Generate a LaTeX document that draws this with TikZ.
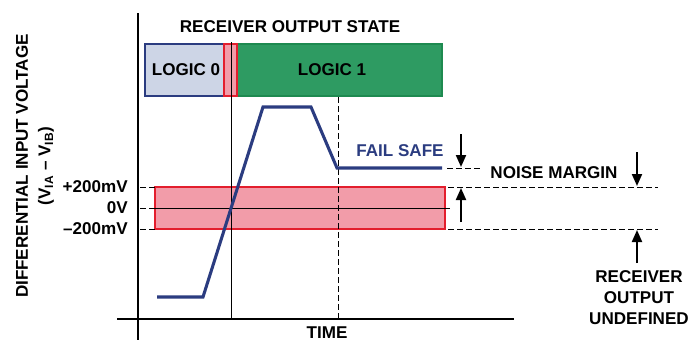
\documentclass[tikz,border=0pt]{standalone}
\usepackage{fontspec}
\setmainfont{Liberation Sans}
\usetikzlibrary{arrows.meta}
\definecolor{wave}{HTML}{2B3C80}
\definecolor{lzero}{HTML}{CDD5E6}
\definecolor{lone}{HTML}{2E9B62}
\definecolor{lonedraw}{HTML}{1E8A50}
\definecolor{band}{HTML}{F29CA9}
\definecolor{bandline}{HTML}{E31E2D}
\tikzset{
  lbl/.style={font=\fontsize{12.8}{15}\selectfont\bfseries, inner sep=0pt},
  tick/.style={lbl, anchor=east},
  thin/.style={line width=0.75pt, black},
  dashln/.style={line width=0.75pt, black, dash pattern=on 4.5pt off 2.25pt},
  axis/.style={line width=1.6pt, black},
  marker/.style={line width=1.5pt, -{Triangle[length=9pt,width=7.5pt]}},
  statebox/.style={inner sep=0pt, line width=1.2pt}
}
\begin{document}
\begin{tikzpicture}[x=0.75pt,y=-0.75pt]
\useasboundingbox (0,0) rectangle (690,343);
% pink undefined band
\node[statebox, draw=bandline, fill=band, minimum width=217.5pt, minimum height=31.5pt] (band) at (300,208) {};
% state boxes
\node[statebox, draw=wave, fill=lzero, minimum width=59.25pt, minimum height=39pt] (l0) at (184.5,70) {};
\node[lbl] (l0t) at (186,70) {LOGIC 0};
\node[statebox, draw=lonedraw, fill=lone, minimum width=153.75pt, minimum height=39pt] (l1) at (339.5,70) {};
\node[lbl] (l1t) at (332,70) {LOGIC 1};
\node[statebox, draw=bandline, fill=band, minimum width=9.75pt, minimum height=39pt] (lx) at (230.5,70) {};
\node[lbl] (title) at (290,27) {RECEIVER OUTPUT STATE};
% axes
\coordinate (ytop) at (138,13);
\coordinate (ybot) at (138,340);
\coordinate (xl) at (117,319);
\coordinate (xr) at (514,319);
\draw[axis] (ytop) -- (ybot);
\draw[axis] (xl) -- (xr);
% vertical markers
\coordinate (v1t) at (231,42);
\coordinate (v1b) at (231,319);
\draw[thin] (v1t) -- (v1b);
\coordinate (v2t) at (338,97);
\coordinate (v2b) at (338,319);
\draw[dashln] (v2t) -- (v2b);
% level lines
\coordinate (p2l) at (140,187); \coordinate (p2r) at (155,187);
\coordinate (z0l) at (140,208); \coordinate (z0m) at (155,208); \coordinate (z0r) at (450,208);
\coordinate (m2l) at (140,229); \coordinate (m2r) at (155,229);
\draw[dashln] (p2l) -- (p2r);
\draw[dashln] (z0l) -- (z0m);
\draw[thin] (z0m) -- (z0r);
\draw[dashln] (m2l) -- (m2r);
\coordinate (rp2l) at (448,187); \coordinate (rp2r) at (658,187);
\coordinate (rm2l) at (448,229); \coordinate (rm2r) at (658,229);
\coordinate (fsl) at (447,168); \coordinate (fsr) at (482,168);
\draw[dashln] (rp2l) -- (rp2r);
\draw[dashln] (rm2l) -- (rm2r);
\draw[dashln] (fsl) -- (fsr);
% waveform
\coordinate (w0) at (157,297);
\coordinate (w1) at (203,297);
\coordinate (w2) at (263,107);
\coordinate (w3) at (311,107);
\coordinate (w4) at (337,168);
\coordinate (w5) at (442,168);
\draw[wave, line width=2.3pt, line join=miter] (w0) -- (w1) -- (w2) -- (w3) -- (w4) -- (w5);
% tick labels
\node[tick] (tp) at (128,187) {+200mV};
\node[tick] (tz) at (128,208) {0V};
\node[tick] (tm) at (128,229) {–200mV};
% axis labels
\node[lbl, rotate=90] (ylab) at (22,166) {DIFFERENTIAL INPUT VOLTAGE};
\node[lbl, rotate=90] (ylab2) at (46,166) {(V\textsubscript{IA} – V\textsubscript{IB})};
\node[lbl] (time) at (327,333) {TIME};
% annotations
\node[lbl, text=wave] (fs) at (400,151) {FAIL SAFE};
\node[lbl] (nm) at (554,173) {NOISE MARGIN};
\node[lbl, align=center, font=\fontsize{12.8}{15.75}\selectfont\bfseries] (ru) at (639,298) {RECEIVER\\OUTPUT\\UNDEFINED};
% arrows
\coordinate (a1s) at (461,134); \coordinate (a1e) at (461,167);
\coordinate (a2s) at (461,222); \coordinate (a2e) at (461,188);
\coordinate (a3s) at (637,152); \coordinate (a3e) at (637,186);
\coordinate (a4s) at (637,263); \coordinate (a4e) at (637,230);
\draw[marker] (a1s) -- (a1e);
\draw[marker] (a2s) -- (a2e);
\draw[marker] (a3s) -- (a3e);
\draw[marker] (a4s) -- (a4e);
\end{tikzpicture}
\end{document}
